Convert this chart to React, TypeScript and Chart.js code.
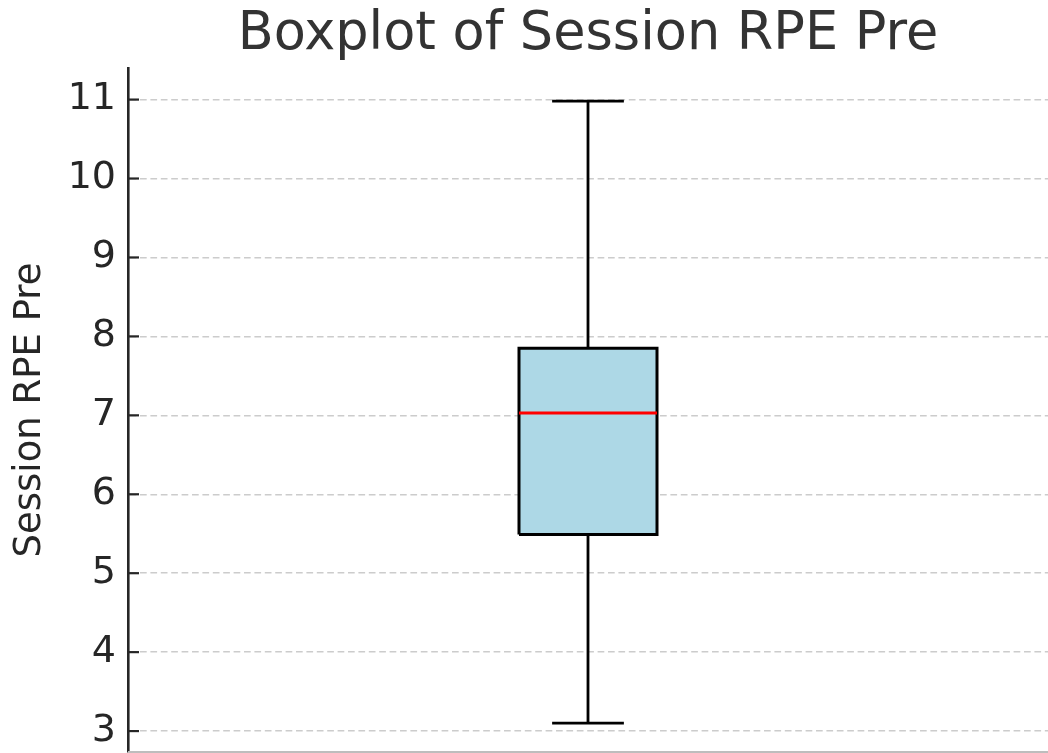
import React, { useEffect, useRef } from "react";
import { Chart, registerables } from "chart.js";

Chart.register(...registerables);

// ---- data ----
const categories = ["Session RPE Pre"];
const whiskerLow = [3.1];
const q1 = [5.49];
const median = [7.03];
const q3 = [7.85];
const whiskerHigh = [10.98];
const yTicks = [3, 4, 5, 6, 7, 8, 9, 10, 11];

// ---- style constants ----
const BOX_HALF = 0.075;
const CAP_HALF = 0.039;
const FONT = "'DejaVu Sans', sans-serif";

const seg = (pts: { x: number; y: number }[], color: string, width: number, order: number, extra: any = {}) => ({
  type: "scatter" as const,
  data: pts,
  showLine: true,
  borderColor: color,
  borderWidth: width,
  pointRadius: 0,
  pointHoverRadius: 0,
  tension: 0,
  fill: false,
  order,
  ...extra,
});

function buildDatasets() {
  const ds: any[] = [];
  categories.forEach((_, i) => {
    const c = i + 1;
    const L = c - BOX_HALF;
    const R = c + BOX_HALF;
    ds.push(seg([{ x: L, y: q3[i] }, { x: R, y: q3[i] }], "rgba(0,0,0,0)", 0, 5, { fill: "+1", backgroundColor: "#add8e6" }));
    ds.push(seg([{ x: L, y: q1[i] }, { x: R, y: q1[i] }], "rgba(0,0,0,0)", 0, 6));
    ds.push(seg([{ x: c, y: q3[i] }, { x: c, y: whiskerHigh[i] }], "#000000", 2.8, 3));
    ds.push(seg([{ x: c, y: q1[i] }, { x: c, y: whiskerLow[i] }], "#000000", 2.8, 3));
    ds.push(seg([{ x: c - CAP_HALF, y: whiskerHigh[i] }, { x: c + CAP_HALF, y: whiskerHigh[i] }], "#000000", 2.8, 3));
    ds.push(seg([{ x: c - CAP_HALF, y: whiskerLow[i] }, { x: c + CAP_HALF, y: whiskerLow[i] }], "#000000", 2.8, 3));
    ds.push(
      seg(
        [
          { x: L, y: q1[i] },
          { x: R, y: q1[i] },
          { x: R, y: q3[i] },
          { x: L, y: q3[i] },
          { x: L, y: q1[i] },
        ],
        "#000000",
        3,
        1,
        { borderJoinStyle: "miter" }
      )
    );
    ds.push(seg([{ x: L, y: median[i] }, { x: R, y: median[i] }], "#ff0000", 3, 0));
  });
  return ds;
}

const decorPlugin = {
  id: "decor",
  afterDraw(chart: any) {
    const { ctx, chartArea, scales } = chart;
    const y = scales.y;
    ctx.save();
    ctx.strokeStyle = "#262626";
    ctx.lineWidth = 2.2;
    y.ticks.forEach((t: any) => {
      const py = y.getPixelForValue(t.value);
      ctx.beginPath();
      ctx.moveTo(chartArea.left, py);
      ctx.lineTo(chartArea.left + 11, py);
      ctx.stroke();
    });
    ctx.strokeStyle = "#bdbdbd";
    ctx.lineWidth = 2;
    ctx.beginPath();
    ctx.moveTo(chartArea.left, chartArea.bottom);
    ctx.lineTo(chartArea.right, chartArea.bottom);
    ctx.stroke();
    ctx.restore();
  },
};

export default function App() {
  const ref = useRef<HTMLCanvasElement | null>(null);
  useEffect(() => {
    if (!ref.current) return;
    const chart = new Chart(ref.current, {
      type: "scatter",
      data: { datasets: buildDatasets() },
      options: {
        animation: false,
        responsive: false,
        devicePixelRatio: 1,
        layout: { padding: { top: 0, bottom: 1, left: 0, right: 0 } },
        plugins: {
          legend: { display: false },
          tooltip: { enabled: false },
          title: {
            display: true,
            text: "Boxplot of Session RPE Pre",
            fullSize: false,
            color: "#333333",
            font: { family: FONT, size: 52.5, weight: "normal", lineHeight: 1.2 },
            padding: { top: 4, bottom: 1 },
          },
        },
        scales: {
          x: { type: "linear", min: 0.5, max: 1.5, display: false },
          y: {
            type: "linear",
            min: 2.735,
            max: 11.4,
            afterBuildTicks: (scale: any) => {
              scale.ticks = yTicks.map((v) => ({ value: v }));
            },
            afterFit: (scale: any) => {
              scale.width = 128;
              scale.paddingTop = 0;
              scale.paddingBottom = 0;
            },
            ticks: {
              color: "#262626",
              font: { family: FONT, size: 38 },
              padding: 12,
              callback: (v: any) => String(v),
            },
            grid: {
              color: "#cccccc",
              lineWidth: 1.5,
              drawTicks: false,
            },
            border: { display: true, color: "#262626", width: 2.6, dash: [6.7, 3.7] },
            title: {
              display: true,
              text: "Session RPE Pre",
              color: "#262626",
              font: { family: FONT, size: 37 },
              padding: { top: 8, bottom: 0 },
            },
          },
        },
      },
      plugins: [decorPlugin],
    });
    return () => chart.destroy();
  }, []);
  return (
    <div style={{ position: "fixed", left: 0, top: 0, width: 1048, height: 753, background: "#ffffff" }}>
      <canvas ref={ref} width={1048} height={753} />
    </div>
  );
}
